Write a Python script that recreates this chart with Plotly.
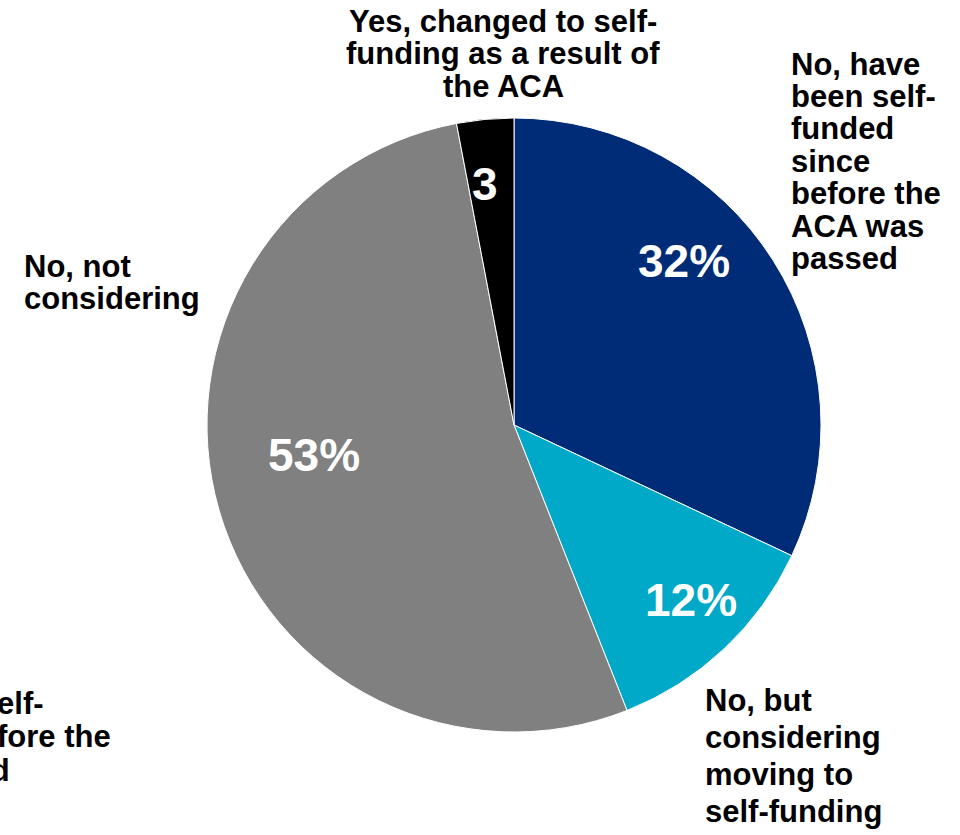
import math
import plotly.graph_objects as go

# --- data -----------------------------------------------------------------
categories = [
    "No, have been self-funded since before the ACA was passed",
    "No, but considering moving to self-funding",
    "No, not considering",
    "Yes, changed to self-funding as a result of the ACA",
]
shares = [32, 12, 53, 3]
value_suffix = ["%", "%", "%", ""]
colors = ["#002B76", "#00A9C8", "#808080", "#000000"]

# category names broken over lines as they are printed beside the pie
category_lines = [
    ["No, have", "been self-", "funded", "since", "before the", "ACA was", "passed"],
    ["No, but", "considering", "moving to", "self-funding"],
    ["No, not", "considering"],
    ["Yes, changed to self-", "funding as a result of", "the ACA"],
]
extra_lines = ["No, have been self-", "funded since before the", "ACA was passed"]

# --- layout constants (pixels) ----------------------------------------------
W, H = 960, 835
CX, CY, R = 514, 425, 307
FONT = "Arial, Liberation Sans, sans-serif"
CAT_SIZE = 31
VAL_SIZE = 46

# where each value label sits: (fraction through the slice's angle, fraction of radius)
value_pos = [(0.40, 0.77), (0.45, 0.81), (0.54, 0.66), (0.36, 0.79)]

# category blocks: (x, first line middle y, line pitch, anchor)
cat_pos = [
    (789, 64, 32.4, "left"),
    (703, 700, 37.0, "left"),
    (22, 266, 32.0, "left"),
    (503, 21, 32.5, "center"),
]
extra_pos = (-241, 703, 33.5, "left")


def px(x):
    return x / W


def py(y):
    return 1 - y / H


fig = go.Figure(
    go.Pie(
        values=shares,
        labels=categories,
        sort=False,
        direction="clockwise",
        rotation=0,
        marker=dict(colors=colors, line=dict(color="white", width=1)),
        textinfo="none",
        hoverinfo="label+percent",
        showlegend=False,
        domain=dict(x=[px(CX - R), px(CX + R)], y=[py(CY + R), py(CY - R)]),
    )
)

annotations = []

# value labels inside the slices, placed from the cumulative shares
total = sum(shares)
start = 0.0
for v, suf, (frac, rf) in zip(shares, value_suffix, value_pos):
    span = 360.0 * v / total
    ang = math.radians(start + frac * span)
    x = CX + rf * R * math.sin(ang)
    y = CY - rf * R * math.cos(ang)
    annotations.append(dict(
        x=px(x), y=py(y), xref="paper", yref="paper",
        text=f"{v}{suf}", showarrow=False,
        xanchor="center", yanchor="middle",
        font=dict(family=FONT, size=VAL_SIZE, color="white", weight="bold"),
    ))
    start += span


def add_block(lines, pos):
    x, y0, pitch, anchor = pos
    for i, line in enumerate(lines):
        annotations.append(dict(
            x=px(x), y=py(y0 + i * pitch), xref="paper", yref="paper",
            text=line, showarrow=False,
            xanchor=anchor, yanchor="middle", align=anchor,
            font=dict(family=FONT, size=CAT_SIZE, color="black", weight="bold"),
        ))


for lines, pos in zip(category_lines, cat_pos):
    add_block(lines, pos)
# a second copy of the first category's label, running off the left edge
add_block(extra_lines, extra_pos)

fig.update_layout(
    width=W, height=H,
    margin=dict(l=0, r=0, t=0, b=0),
    paper_bgcolor="white",
    plot_bgcolor="white",
    annotations=annotations,
)

fig.write_html("out.html")
